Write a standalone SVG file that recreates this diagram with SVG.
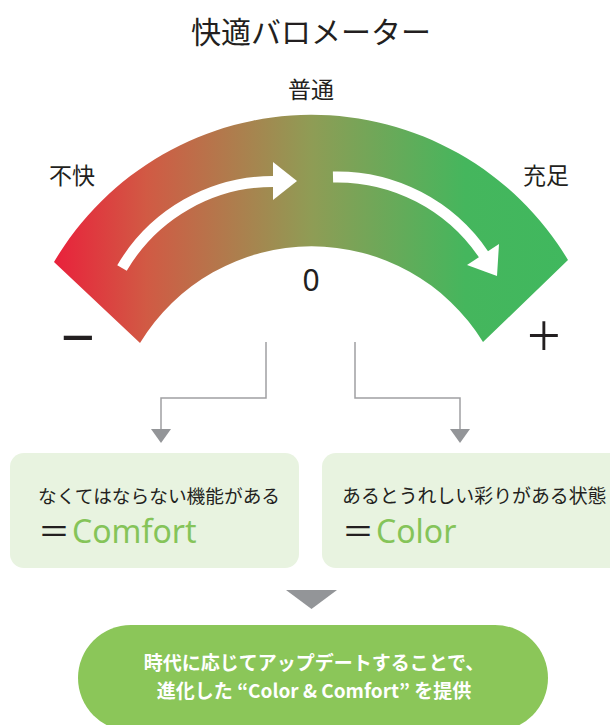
<svg xmlns="http://www.w3.org/2000/svg" width="610" height="725" viewBox="0 0 610 725">
<defs>
<linearGradient id="gauge" gradientUnits="userSpaceOnUse" x1="54" y1="0" x2="568" y2="0">
<stop offset="0" stop-color="#e9213b"/>
<stop offset="0.18" stop-color="#d15a44"/>
<stop offset="0.5" stop-color="#8f9c55"/>
<stop offset="0.8" stop-color="#45b65d"/>
<stop offset="1" stop-color="#40b85e"/>
</linearGradient>
</defs>
<style>
.jp{font-family:"Noto Sans CJK JP","Noto Sans",sans-serif;fill:#231f20}
.lat{font-family:"Noto Sans","Noto Sans CJK JP",sans-serif}
.conn{fill:none;stroke:#a0a0a2;stroke-width:1.5}
.head{fill:#939598}
.box{fill:#e8f3e0}
.green{fill:#85c459}
.warrow{fill:none;stroke:#ffffff;stroke-width:11}
.whead{fill:#ffffff}
.pill{font-family:"Noto Sans CJK JP","Noto Sans",sans-serif;fill:#ffffff;font-weight:bold}
</style>
<g id="title">
<text class="jp" x="311" y="43" font-size="30" text-anchor="middle">快適バロメーター</text>
</g>
<g id="gauge-node">
<path d="M54,262 A299,299 0 0 1 568,260 L483,342 A201,201 0 0 0 140,343 Z" fill="url(#gauge)"/>
<path class="warrow" d="M122,268 A175,175 0 0 1 274,181.5"/>
<polygon class="whead" points="273,162 273,200 297,181"/>
<path class="warrow" d="M333,177 A177,177 0 0 1 484,255"/>
<polygon class="whead" points="499,244 467,265 497,276"/>
<text class="jp" x="311" y="98" font-size="23" text-anchor="middle">普通</text>
<text class="jp" x="72" y="184" font-size="23" text-anchor="middle">不快</text>
<text class="jp" x="546" y="184" font-size="23" text-anchor="middle">充足</text>
<text class="lat" x="311" y="291" font-size="30" text-anchor="middle" fill="#231f20">0</text>
<text class="lat" x="78" y="359" font-size="60" text-anchor="middle" fill="#231f20">−</text>
<text class="lat" x="544" y="357" font-size="60" font-weight="300" text-anchor="middle" fill="#231f20">+</text>
</g>
<g id="connectors">
<path class="conn" d="M266,342 V398 H161 V430"/>
<polygon class="head" points="151,429 171,429 161,443"/>
<path class="conn" d="M355,342 V398 H460 V430"/>
<polygon class="head" points="450,429 470,429 460,443"/>
<polygon class="head" points="286,590 337,590 311.5,609"/>
</g>
<g id="comfort-box">
<rect class="box" x="10" y="453" width="289" height="115" rx="14"/>
<text class="jp" x="38" y="503" font-size="18.7">なくてはならない機能がある</text>
<text class="jp" x="38" y="543" font-size="32">＝</text>
<text class="lat green" x="72" y="543" font-size="32">Comfort</text>
</g>
<g id="color-box">
<rect class="box" x="322" y="453" width="310" height="115" rx="14"/>
<text class="jp" x="342" y="503" font-size="18.9">あるとうれしい彩りがある状態</text>
<text class="jp" x="342" y="543" font-size="32">＝</text>
<text class="lat green" x="376" y="543" font-size="32">Color</text>
</g>
<g id="result-node">
<rect x="78" y="625" width="470" height="106" rx="53" fill="#8bc659"/>
<text class="pill" x="314" y="670" font-size="19" text-anchor="middle">時代に応じてアップデートすることで、</text>
<text class="pill" x="314" y="698" font-size="19" text-anchor="middle">進化した “Color &amp; Comfort” を提供</text>
</g>
</svg>
